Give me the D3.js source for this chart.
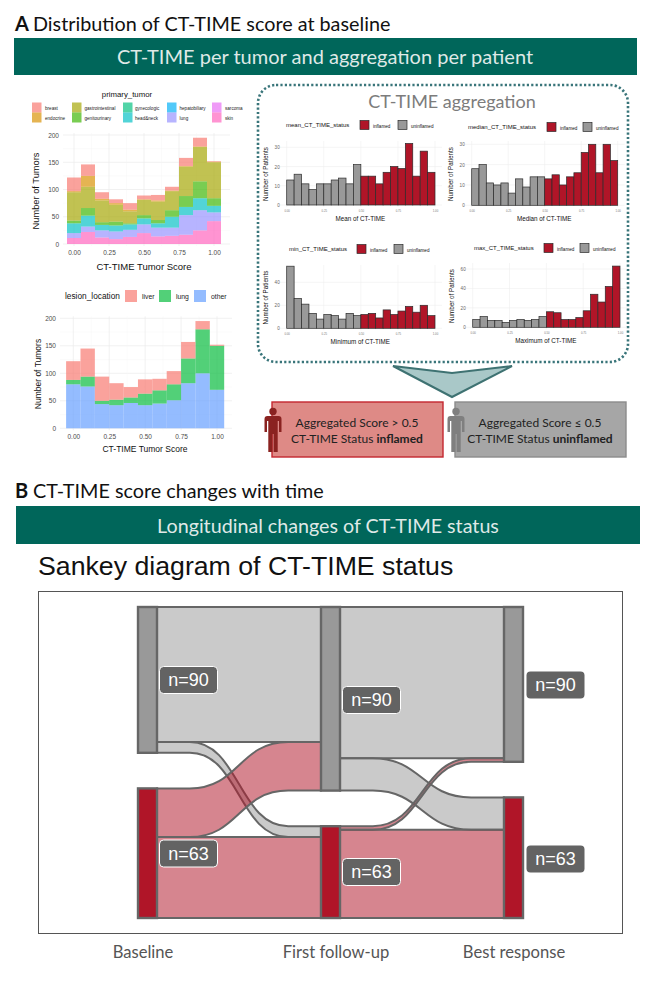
<!DOCTYPE html>
<html>
<head>
<meta charset="utf-8">
<script src="https://cdn.jsdelivr.net/npm/d3@7"></script>
<style>
  body { margin: 0; background: #fff; }
  text { font-family: Lato, sans-serif; }
  .gg text { font-family: "Liberation Sans", sans-serif; }
</style>
</head>
<body>
<script>
// tumor score histograms, 11 bins
var scoreBins = [0, 0.1, 0.2, 0.3, 0.4, 0.5, 0.6, 0.7, 0.8, 0.9, 1.0];
var scoreTicks = [0, 0.25, 0.5, 0.75, 1];
var tumorTypes = ["breast", "endocrine", "gastrointestinal", "genitourinary", "gynecologic", "head&neck", "hepatobiliary", "lung", "sarcoma", "skin"];
var tumorColors = ["#F8766D", "#D89000", "#A3A500", "#39B600", "#00BF7D", "#00BFC4", "#00B0F6", "#9590FF", "#E76BF3", "#FF62BC"];
var breast = [25, 21, 12, 7, 12, 7, 10, 7, 15, 16, 1];
var endocrine = [2, 20, 3, 3, 3, 1, 2, 1, 1, 1, 1];
var gastrointestinal = [52, 39, 40, 31, 22, 28, 34, 35, 54, 63, 66];
var genitourinary = [5, 14, 5, 7, 2, 6, 6, 12, 20, 31, 14];
var gynecologic = [0, 0, 0, 0, 0, 0, 0, 0, 0, 0, 0];
var headNeck = [18, 20, 10, 11, 10, 11, 8, 20, 15, 22, 12];
var hepatobiliary = [0, 0, 0, 0, 0, 0, 0, 0, 0, 0, 0];
var lungTumor = [9, 10, 13, 14, 13, 16, 16, 15, 36, 37, 16];
var sarcoma = [0, 0, 0, 0, 0, 0, 0, 0, 0, 0, 0];
var skin = [11, 22, 12, 9, 13, 20, 14, 15, 17, 25, 42];
var tumorValues = [breast, endocrine, gastrointestinal, genitourinary, gynecologic, headNeck, hepatobiliary, lungTumor, sarcoma, skin];

var locations = ["liver", "lung", "other"];
var locationColors = ["#F8766D", "#00BA38", "#619CFF"];
var liver = [34, 51, 44, 30, 19, 26, 21, 24, 30, 15, 2];
var lungLesion = [8, 18, 6, 10, 10, 21, 24, 29, 45, 80, 80];
var otherLesion = [80, 76, 44, 42, 46, 42, 45, 51, 82, 100, 70];
var locationValues = [liver, lungLesion, otherLesion];

// patient level histograms, 20 bins of 0.05
var meanCounts = [13, 16, 11, 8, 11, 11, 13, 14, 11, 21, 15, 15, 11, 17, 20, 19, 32, 15, 28, 17];
var medianCounts = [18, 20, 11, 10, 11, 6, 13, 9, 14, 14, 13, 15, 10, 14, 16, 26, 30, 16, 30, 22];
var minCounts = [54, 26, 21, 13, 8, 12, 11, 8, 13, 11, 12, 13, 9, 16, 12, 15, 19, 14, 20, 11];
var maxCounts = [8, 11, 7, 7, 5, 7, 8, 7, 8, 11, 16, 15, 8, 8, 10, 17, 34, 26, 42, 63];

// sankey
var stages = ["Baseline", "First follow-up", "Best response"];
var statuses = ["uninflamed", "inflamed"];
// order: uninflamed>uninflamed, uninflamed>inflamed, inflamed>uninflamed, inflamed>inflamed
var flowsBaseline = [75, 6, 27, 45];
var flowsFollowUp = [84, 18, 2, 49];
var nodeLabels = ["n=90", "n=63"];

var RED = "#b01528", GREY = "#999999";

var svg = d3.select("body").append("svg").attr("width", 658).attr("height", 986);

function label(x, y, str, size, opts) {
    opts = opts || {};
    var t = svg.append("text").attr("x", x).attr("y", y)
        .attr("font-size", size).attr("fill", opts.fill || "#111")
        .attr("text-anchor", opts.anchor || "start").text(str);
    if (opts.family) t.style("font-family", opts.family);
    if (opts.weight) t.attr("font-weight", opts.weight);
    if (opts.rotate) t.attr("transform", "rotate(-90," + x + "," + y + ")");
    return t;
}

// section headers
label(15, 31, "A", 20, {weight: 700});
label(33, 31, "Distribution of CT-TIME score at baseline", 19.8);
svg.append("rect").attr("x", 14).attr("y", 38).attr("width", 623).attr("height", 37).attr("fill", "#00665a");
label(325, 64, "CT-TIME per tumor and aggregation per patient", 20, {fill: "#dfe9e7", anchor: "middle"});

label(15, 498, "B", 20, {weight: 700});
label(33, 498, "CT-TIME score changes with time", 19.8);
svg.append("rect").attr("x", 16).attr("y", 506).attr("width", 624).attr("height", 38).attr("fill", "#00665a");
label(328, 533, "Longitudinal changes of CT-TIME status", 19.7, {fill: "#dfe9e7", anchor: "middle"});

// stacked tumor histogram
function stackedHist(o) {
    var g = svg.append("g").attr("class", "gg");
    var rows = scoreBins.map(function (b, i) {
        var r = {bin: b};
        o.keys.forEach(function (k, j) { r[k] = o.values[j][i]; });
        return r;
    });
    var x = d3.scaleLinear().domain([0, 1]).range(o.xRange);
    var y = d3.scaleLinear().domain([0, 200]).range(o.yRange);
    var binW = x(0.1) - x(0);

    // minor and major grid
    d3.range(0, 225, 25).forEach(function (v) {
        g.append("line").attr("x1", o.grid[0]).attr("x2", o.grid[1]).attr("y1", y(v)).attr("y2", y(v))
            .attr("stroke", v % 50 ? "#f4f4f4" : "#ebebeb").attr("stroke-width", v % 50 ? 0.4 : 0.7);
    });
    d3.range(0, 1.125, 0.125).forEach(function (v, i) {
        g.append("line").attr("y1", o.yRange[0] + 2).attr("y2", o.yRange[1] - 2).attr("x1", x(v)).attr("x2", x(v))
            .attr("stroke", i % 2 ? "#f4f4f4" : "#ebebeb").attr("stroke-width", i % 2 ? 0.4 : 0.7);
    });

    var series = d3.stack().keys(o.keys.slice().reverse())(rows);
    var color = d3.scaleOrdinal().domain(o.keys).range(o.colors);
    g.selectAll("g.layer").data(series).enter().append("g").attr("class", "layer")
        .attr("fill", function (d) { return color(d.key); })
        .attr("fill-opacity", 0.68)
        .selectAll("rect").data(function (d) { return d; }).enter().append("rect")
        .attr("x", function (d) { return x(d.data.bin) - binW / 2; })
        .attr("width", binW)
        .attr("y", function (d) { return y(d[1]); })
        .attr("height", function (d) { return y(d[0]) - y(d[1]); });

    var ax = g.append("g").attr("transform", "translate(0," + (o.yRange[0] + 3) + ")")
        .call(d3.axisBottom(x).tickValues(scoreTicks).tickFormat(d3.format(".2f")).tickSize(0));
    var ay = g.append("g").attr("transform", "translate(" + (o.grid[0] - 1) + ",0)")
        .call(d3.axisLeft(y).tickValues([0, 50, 100, 150, 200]).tickSize(0));
    [ax, ay].forEach(function (a) {
        a.select(".domain").remove();
        a.selectAll("text").attr("font-size", 6.5).attr("fill", "#4d4d4d");
    });
}

stackedHist({
    keys: tumorTypes, values: tumorValues, colors: tumorColors,
    xRange: [74, 214], yRange: [244, 135], grid: [63, 230]
});
stackedHist({
    keys: locations, values: locationValues, colors: locationColors,
    xRange: [73.3, 217], yRange: [428.3, 318.3], grid: [60, 232]
});

var sans = '"Liberation Sans", sans-serif';
label(144, 269.5, "CT-TIME Tumor Score", 9.5, {anchor: "middle", family: sans});
label(39, 191, "Number of Tumors", 9.3, {anchor: "middle", rotate: true, family: sans});
label(145, 452, "CT-TIME Tumor Score", 8.5, {anchor: "middle", family: sans});
label(41, 374, "Number of Tumors", 8.5, {anchor: "middle", rotate: true, family: sans});

// tumor legend
label(127, 97, "primary_tumor", 7.8, {anchor: "middle", family: sans});
tumorTypes.forEach(function (t, i) {
    var col = Math.floor(i / 2), row = i % 2;
    var xs = [32, 72, 123, 167, 212][col];
    var gaps = [13, 12.5, 12, 12.5, 13][col];
    svg.append("rect").attr("x", xs).attr("y", 102.5 + row * 10).attr("width", 9.5).attr("height", 10)
        .attr("fill", tumorColors[i]).attr("fill-opacity", 0.68);
    label(xs + gaps, 109.5 + row * 10, t, 4.6, {fill: "#222", family: sans});
});

// location legend
label(65, 299, "lesion_location", 8.3, {family: sans});
locations.forEach(function (t, i) {
    var xs = [125, 159, 194][i];
    svg.append("rect").attr("x", xs).attr("y", 290).attr("width", 12).attr("height", 12)
        .attr("fill", locationColors[i]).attr("fill-opacity", 0.68);
    label(xs + 17, 299, t, 6.8, {fill: "#222", family: sans});
});

// aggregation box
svg.append("rect").attr("x", 258).attr("y", 85).attr("width", 370).attr("height", 277).attr("rx", 18)
    .attr("fill", "none").attr("stroke", "#39757a").attr("stroke-width", 2.6).attr("stroke-dasharray", "2.2 2.2");
label(452, 108, "CT-TIME aggregation", 18, {fill: "#7c7c7c", anchor: "middle"});

function patientHist(o) {
    var g = svg.append("g").attr("class", "gg");
    var x = d3.scaleLinear().domain([0, 1]).range(o.xRange);
    var y = d3.scaleLinear().domain([0, o.yTicks[o.yTicks.length - 1]]).range([o.y0, o.yTop]);
    var top = o.plotTop;

    o.yTicks.forEach(function (v) {
        g.append("line").attr("x1", o.xRange[0] - 7).attr("x2", o.xRange[1] + 7).attr("y1", y(v)).attr("y2", y(v))
            .attr("stroke", "#eeeeee").attr("stroke-width", 0.6);
    });
    scoreTicks.forEach(function (v) {
        g.append("line").attr("x1", x(v)).attr("x2", x(v)).attr("y1", top).attr("y2", o.y0 + 2)
            .attr("stroke", "#eeeeee").attr("stroke-width", 0.6);
    });

    var w = x(0.05) - x(0);
    g.selectAll("rect.bar").data(o.counts).enter().append("rect").attr("class", "bar")
        .attr("x", function (d, i) { return x(i * 0.05); })
        .attr("width", w)
        .attr("y", function (d) { return y(d); })
        .attr("height", function (d) { return o.y0 - y(d); })
        .attr("fill", function (d, i) { return i < 10 ? GREY : RED; })
        .attr("stroke", "#2b2b2b").attr("stroke-width", 0.7);

    var ax = g.append("g").attr("transform", "translate(0," + (o.y0 + 5) + ")")
        .call(d3.axisBottom(x).tickValues(scoreTicks).tickFormat(d3.format(".2f")).tickSize(0).tickPadding(0));
    ax.select(".domain").remove();
    ax.selectAll("text").attr("font-size", 2.8).attr("fill", "#777");
    var ay = g.append("g").attr("transform", "translate(" + (o.xRange[0] - 6) + ",0)")
        .call(d3.axisLeft(y).tickValues(o.yTicks).tickSize(0).tickPadding(1));
    ay.select(".domain").remove();
    ay.selectAll("text").attr("font-size", 4.6).attr("fill", "#666");

    label((o.xRange[0] + o.xRange[1]) / 2 - 0.5, o.y0 + 15.5, o.xTitle, 6.3, {anchor: "middle", family: sans});
    label(o.xRange[0] - 19, (o.y0 + top) / 2 + 1, "Number of Patients", 6.3, {anchor: "middle", rotate: true, family: sans});

    // legend
    label(o.legend[0], o.legend[1], o.legendTitle, 6, {family: sans});
    var sw = [o.legend[2], o.legend[3]];
    [["inflamed", RED], ["uninflamed", GREY]].forEach(function (d, i) {
        svg.append("rect").attr("x", sw[i]).attr("y", o.legend[1] - 6.5).attr("width", 9).attr("height", 9)
            .attr("fill", d[1]).attr("stroke", "#2b2b2b").attr("stroke-width", 0.7);
        label(sw[i] + 13, o.legend[1] + 0.5, d[0], 4.6, {family: sans});
    });
}

patientHist({counts: meanCounts, xRange: [286.7, 435], y0: 205, yTop: 147.3, plotTop: 141, yTicks: [0, 10, 20, 30],
    xTitle: "Mean of CT-TIME", legendTitle: "mean_CT_TIME_status", legend: [286, 127, 360, 398]});
patientHist({counts: medianCounts, xRange: [471.7, 617.7], y0: 205.3, yTop: 144.3, plotTop: 141, yTicks: [0, 10, 20, 30],
    xTitle: "Median of CT-TIME", legendTitle: "median_CT_TIME_status", legend: [468, 129, 547, 583]});
patientHist({counts: minCounts, xRange: [286.7, 435], y0: 328.3, yTop: 282.3, plotTop: 265, yTicks: [0, 20, 40],
    xTitle: "Minimum of CT-TIME", legendTitle: "min_CT_TIME_status", legend: [289, 251, 357, 394]});
patientHist({counts: maxCounts, xRange: [472.7, 620], y0: 327.3, yTop: 269, plotTop: 263, yTicks: [0, 20, 40, 60],
    xTitle: "Maximum of CT-TIME", legendTitle: "max_CT_TIME_status", legend: [474, 250, 544, 580]});

// arrow
svg.append("path")
    .attr("d", d3.line()([[393, 366], [452, 373], [512, 366], [452, 397]]) + "Z")
    .attr("fill", "#a9c8c8").attr("stroke", "#3e7272").attr("stroke-width", 2).attr("stroke-linejoin", "miter");

// status boxes
function person(x, top, color) {
    var g = svg.append("g").attr("fill", color);
    g.append("circle").attr("cx", x).attr("cy", top + 3.5).attr("r", 3.7);
    var p = d3.path();
    p.moveTo(x - 5.5, top + 8);
    p.lineTo(x + 5.5, top + 8);
    p.quadraticCurveTo(x + 8.5, top + 8, x + 8.5, top + 11);
    p.lineTo(x + 8.5, top + 24);
    p.lineTo(x + 6, top + 24);
    p.lineTo(x + 6, top + 13);
    p.lineTo(x + 4.7, top + 13);
    p.lineTo(x + 4.7, top + 44);
    p.lineTo(x + 0.6, top + 44);
    p.lineTo(x + 0.6, top + 26);
    p.lineTo(x - 0.6, top + 26);
    p.lineTo(x - 0.6, top + 44);
    p.lineTo(x - 4.7, top + 44);
    p.lineTo(x - 4.7, top + 13);
    p.lineTo(x - 6, top + 13);
    p.lineTo(x - 6, top + 24);
    p.lineTo(x - 8.5, top + 24);
    p.lineTo(x - 8.5, top + 11);
    p.quadraticCurveTo(x - 8.5, top + 8, x - 5.5, top + 8);
    p.closePath();
    g.append("path").attr("d", p.toString());
}
function statusBox(x, fill, stroke, iconColor, score, status) {
    svg.append("rect").attr("x", x).attr("y", 402).attr("width", 171).attr("height", 55)
        .attr("fill", fill).attr("stroke", stroke).attr("stroke-width", 1.4);
    person(x + 1, 408, iconColor);
    var cx = x + 85;
    label(cx, 427, "Aggregated Score " + score, 12, {anchor: "middle", fill: "#222"});
    var t = label(cx, 443, "CT-TIME Status ", 12, {anchor: "middle", fill: "#222"});
    t.append("tspan").attr("font-weight", 700).text(status);
}
statusBox(272, "#de8a86", "#c4272f", "#8a2220", "> 0.5", "inflamed");
statusBox(455, "#a6a6a6", "#8c8c8c", "#7f7f7f", "≤ 0.5", "uninflamed");

// sankey
label(38, 575, "Sankey diagram of CT-TIME status", 26.7, {family: sans});
svg.append("rect").attr("x", 38.5).attr("y", 591.5).attr("width", 584).attr("height", 342)
    .attr("fill", "none").attr("stroke", "#555").attr("stroke-width", 1);

var sx = d3.scalePoint().domain(stages).range([147.5, 513.5]);
var nodeW = 19;
var totalPatients = d3.sum(flowsBaseline);
var sTop = 607, sBottom = 918;
var sh = d3.scaleLinear().domain([0, totalPatients]).range([0, 275.4]);
var statusColor = d3.scaleOrdinal().domain(statuses).range([GREY, RED]);

function flowTable(vals, from, to) {
    return [[0, 0, vals[0]], [0, 1, vals[1]], [1, 0, vals[2]], [1, 1, vals[3]]].map(function (d) {
        return {from: from, to: to, s: d[0], t: d[1], value: d[2]};
    });
}
var flows = flowTable(flowsBaseline, stages[0], stages[1]).concat(flowTable(flowsFollowUp, stages[1], stages[2]));

// each column fills the whole height, the rest is the gap between the nodes
var nodes = [];
stages.forEach(function (stage) {
    var inF = flows.filter(function (f) { return f.to === stage; });
    var outF = flows.filter(function (f) { return f.from === stage; });
    var size = statuses.map(function (st, i) {
        var src = outF.length ? outF.filter(function (f) { return f.s === i; }) : inF.filter(function (f) { return f.t === i; });
        return d3.sum(src, function (f) { return f.value; });
    });
    nodes.push({stage: stage, i: 0, y0: sTop, y1: sTop + sh(size[0])});
    nodes.push({stage: stage, i: 1, y0: sBottom - sh(size[1]), y1: sBottom});
});
function nodeOf(stage, i) {
    return nodes.find(function (n) { return n.stage === stage && n.i === i; });
}
nodes.forEach(function (n) { n.outY = n.y0; n.inY = n.y0; });
flows.forEach(function (f) {
    var a = nodeOf(f.from, f.s), b = nodeOf(f.to, f.t), h = sh(f.value);
    f.x0 = sx(f.from) + nodeW / 2; f.x1 = sx(f.to) - nodeW / 2;
    f.a0 = a.outY; f.a1 = a.outY + h; a.outY += h;
    f.b0 = b.inY; f.b1 = b.inY + h; b.inY += h;
});

// flat ends with the bend in the middle part
function ribbon(f) {
    var w = f.x1 - f.x0, k0 = f.x0 + w * 0.2, k1 = f.x1 - w * 0.2, mid = (f.x0 + f.x1) / 2, p = d3.path();
    p.moveTo(f.x0, f.a0);
    p.lineTo(k0, f.a0);
    p.bezierCurveTo(mid, f.a0, mid, f.b0, k1, f.b0);
    p.lineTo(f.x1, f.b0);
    p.lineTo(f.x1, f.b1);
    p.lineTo(k1, f.b1);
    p.bezierCurveTo(mid, f.b1, mid, f.a1, k0, f.a1);
    p.lineTo(f.x0, f.a1);
    p.closePath();
    return p.toString();
}
svg.append("g").selectAll("path").data(flows).enter().append("path")
    .attr("d", ribbon)
    .attr("fill", function (f) { return statusColor(statuses[f.s]); })
    .attr("fill-opacity", 0.52)
    .attr("stroke", "#666").attr("stroke-width", 2);

svg.append("g").selectAll("rect").data(nodes).enter().append("rect")
    .attr("x", function (n) { return sx(n.stage) - nodeW / 2; })
    .attr("width", nodeW)
    .attr("y", function (n) { return n.y0; })
    .attr("height", function (n) { return n.y1 - n.y0; })
    .attr("fill", function (n) { return statusColor(statuses[n.i]); })
    .attr("stroke", "#666").attr("stroke-width", 2.4);

// n= labels next to the nodes
function nLabel(n, i, outlined) {
    var g = svg.append("g");
    var lx = sx(stages[i]) + [12, 12, 13][i];
    var cy = n === 0 ? [680, 700, 685][i] : [853.5, 872, 859][i];
    g.append("rect").attr("x", lx).attr("y", cy - 13.5).attr("width", 58).attr("height", 27).attr("rx", 4)
        .attr("fill", "#636363").attr("stroke", outlined ? "#fff" : "none").attr("stroke-width", 1);
    g.append("text").attr("x", lx + 29).attr("y", cy + 6).attr("text-anchor", "middle")
        .attr("font-size", 18).attr("fill", "#fff").style("font-family", sans).text(nodeLabels[n]);
}
[0, 1].forEach(function (n) { [0, 1, 2].forEach(function (i) { nLabel(n, i, i < 2); }); });

// stage names under the plot
[143, 336, 514].forEach(function (px, i) {
    label(px, 958, stages[i], 16.6, {anchor: "middle", fill: "#555"});
});
</script>
</body>
</html>
